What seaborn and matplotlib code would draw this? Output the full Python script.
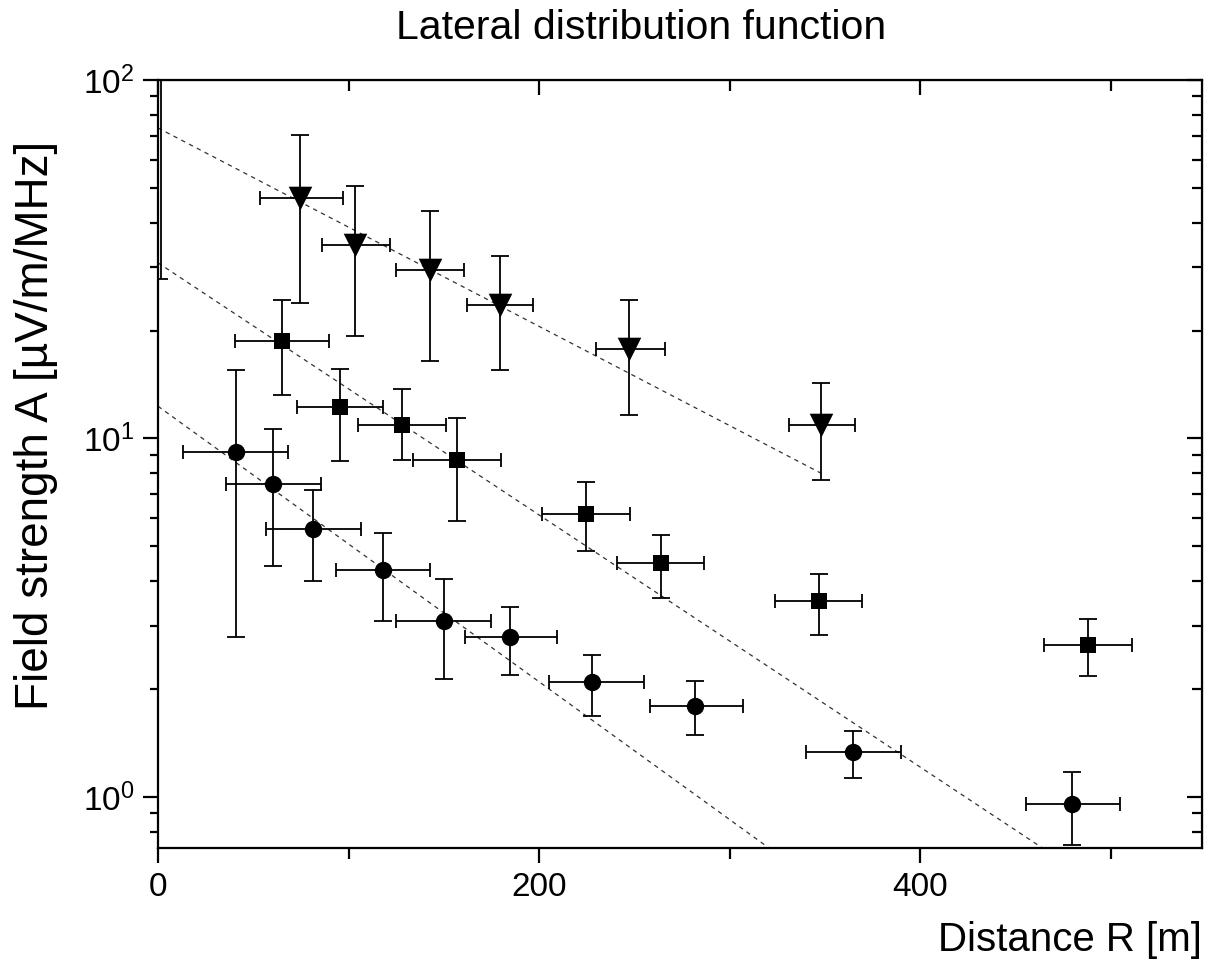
import numpy as np
import pandas as pd
import matplotlib
matplotlib.use("Agg")
import matplotlib.pyplot as plt
import seaborn as sns
from matplotlib.ticker import LogLocator, MultipleLocator, NullFormatter

# ---------------- data ----------------
# triangles (down)
tri_R = [74.5, 103.4, 142.8, 179.5, 247.0, 348.0]
tri_A = [46.9, 34.7, 29.5, 23.6, 17.8, 10.9]
tri_A_hi = [70.3, 50.6, 43.1, 32.3, 24.3, 14.3]
tri_A_lo = [23.9, 19.3, 16.4, 15.5, 11.6, 7.66]
tri_R_lo = [53.5, 86.0, 125.0, 162.0, 230.0, 331.0]
tri_R_hi = [97.1, 122.0, 160.6, 197.0, 266.0, 366.0]

# squares
sq_R = [65.0, 95.5, 128.0, 157.0, 224.7, 264.0, 347.0, 488.0]
sq_A = [18.7, 12.2, 10.9, 8.71, 6.16, 4.50, 3.52, 2.66]
sq_A_hi = [24.3, 15.6, 13.7, 11.4, 7.56, 5.38, 4.19, 3.14]
sq_A_lo = [13.2, 8.65, 8.7, 5.89, 4.86, 3.59, 2.83, 2.18]
sq_R_lo = [40.4, 73.0, 105.0, 134.0, 201.6, 241.0, 324.0, 465.0]
sq_R_hi = [89.8, 118.0, 151.0, 180.0, 247.8, 286.6, 369.5, 511.0]

# circles
ci_R = [41.0, 60.4, 81.4, 118.0, 150.0, 185.0, 228.0, 282.0, 365.0, 480.0]
ci_A = [9.17, 7.47, 5.59, 4.30, 3.10, 2.79, 2.09, 1.79, 1.335, 0.956]
ci_A_hi = [15.5, 10.6, 7.18, 5.45, 4.06, 3.39, 2.49, 2.11, 1.53, 1.17]
ci_A_lo = [2.79, 4.41, 4.00, 3.10, 2.13, 2.19, 1.68, 1.49, 1.13, 0.735]
ci_R_lo = [13.0, 35.7, 56.7, 93.4, 125.0, 161.0, 205.0, 258.0, 340.0, 455.6]
ci_R_hi = [68.0, 85.6, 106.6, 142.8, 174.8, 209.4, 255.0, 307.0, 390.0, 505.0]

# off-scale point near R=0 (only its lower error bar is visible)
off_R = [1.5]
off_A = [150.0]
off_A_lo = [27.9]

# exponential fits  A = A0 * exp(-R / R0)
fit_A0 = [73.5, 30.9, 12.3]
fit_R0 = [156.9, 123.5, 113.0]
fit_Rmax = [348.0, 550.0, 550.0]

x_ticks = [0, 200, 400]

# ---------------- style ----------------
sns.set_style("ticks")
plt.rcParams["font.family"] = ["Liberation Sans", "DejaVu Sans"]
plt.rcParams["mathtext.fontset"] = "custom"
plt.rcParams["mathtext.rm"] = "Liberation Sans"
for k in ["text.color", "axes.labelcolor", "xtick.color", "ytick.color", "axes.edgecolor"]:
    plt.rcParams[k] = "black"

fig = plt.figure(figsize=(12.09, 9.63), dpi=100)
ax = fig.add_axes([158 / 1209, 1 - 848 / 963, (1202 - 158) / 1209, (848 - 80) / 963])

def draw_series(R, A, A_lo, A_hi, R_lo, R_hi, marker, ms):
    R = np.array(R); A = np.array(A)
    yerr = [A - np.array(A_lo), np.array(A_hi) - A]
    xerr = [R - np.array(R_lo), np.array(R_hi) - R]
    ax.errorbar(R, A, yerr=yerr, fmt="none", ecolor="black", elinewidth=1.3,
                capsize=6.5, capthick=1.3, zorder=2)
    ax.errorbar(R, A, xerr=xerr, fmt="none", ecolor="black", elinewidth=1.3,
                capsize=5.0, capthick=1.3, zorder=2)
    df = pd.DataFrame({"R": R, "A": A})
    sns.scatterplot(data=df, x="R", y="A", marker=marker, s=ms ** 2,
                    color="black", edgecolor="black", linewidth=0, ax=ax, zorder=3)

# fit lines
for A0, R0, Rmax in zip(fit_A0, fit_R0, fit_Rmax):
    rr = np.linspace(0, Rmax, 300)
    df = pd.DataFrame({"R": rr, "A": A0 * np.exp(-rr / R0)})
    sns.lineplot(data=df, x="R", y="A", ax=ax, color="#333333", linewidth=0.9,
                 dashes=False, zorder=1)
for line in ax.get_lines():
    line.set_dashes((3.5, 3.5))

draw_series(tri_R, tri_A, tri_A_lo, tri_A_hi, tri_R_lo, tri_R_hi, "v", 17)
draw_series(sq_R, sq_A, sq_A_lo, sq_A_hi, sq_R_lo, sq_R_hi, "s", 12)
draw_series(ci_R, ci_A, ci_A_lo, ci_A_hi, ci_R_lo, ci_R_hi, "o", 12.5)

offA = np.array(off_A)
ax.errorbar(off_R, off_A, yerr=[offA - np.array(off_A_lo), np.zeros_like(offA)],
            fmt="none", ecolor="black", elinewidth=1.3, capsize=5, capthick=1.3, zorder=2)

ax.set_yscale("log")
ax.set_xlim(0, 548)
ax.set_ylim(0.72, 100)
ax.set_xticks(x_ticks)
ax.xaxis.set_minor_locator(MultipleLocator(100))
ax.yaxis.set_major_locator(LogLocator(base=10, numticks=10))
ax.yaxis.set_minor_locator(LogLocator(base=10, subs=np.arange(2, 10), numticks=20))
ax.yaxis.set_minor_formatter(NullFormatter())

for s in ax.spines.values():
    s.set_linewidth(1.6)
    s.set_color("black")
    s.set_visible(True)

ax.tick_params(axis="both", which="major", direction="out", length=11, width=1.6,
               labelsize=24, colors="black", pad=6)
ax.tick_params(axis="both", which="minor", direction="out", length=6, width=1.6)
ax.tick_params(axis="x", which="minor", length=8)

# mirrored inward ticks on top/right
axt = ax.secondary_xaxis("top")
axt.set_xticks(x_ticks)
axt.xaxis.set_minor_locator(MultipleLocator(100))
axt.tick_params(which="major", direction="in", length=11, width=1.6, labeltop=False)
axt.tick_params(which="minor", direction="in", length=8, width=1.6)
axr = ax.secondary_yaxis("right")
axr.set_yscale("log")
axr.yaxis.set_major_locator(LogLocator(base=10, numticks=10))
axr.yaxis.set_minor_locator(LogLocator(base=10, subs=np.arange(2, 10), numticks=20))
axr.tick_params(which="major", direction="in", length=11, width=1.6, labelright=False)
axr.tick_params(which="minor", direction="in", length=7, width=1.6, labelright=False)
axr.yaxis.set_minor_formatter(NullFormatter())

ax.set_xlabel("")
ax.set_ylabel("")
fig.text(1202 / 1209, 1 - 940 / 963, "Distance R [m]", ha="right", va="center",
         fontsize=29, color="black")
fig.text(36 / 1209, 1 - 425 / 963, "Field strength A [µV/m/MHz]", ha="center", va="center",
         rotation=90, fontsize=33, color="black")
fig.text(641 / 1209, 1 - 28 / 963, "Lateral distribution function", ha="center", va="center",
         fontsize=29.5, color="black")

fig.savefig("out.png", dpi=100)
